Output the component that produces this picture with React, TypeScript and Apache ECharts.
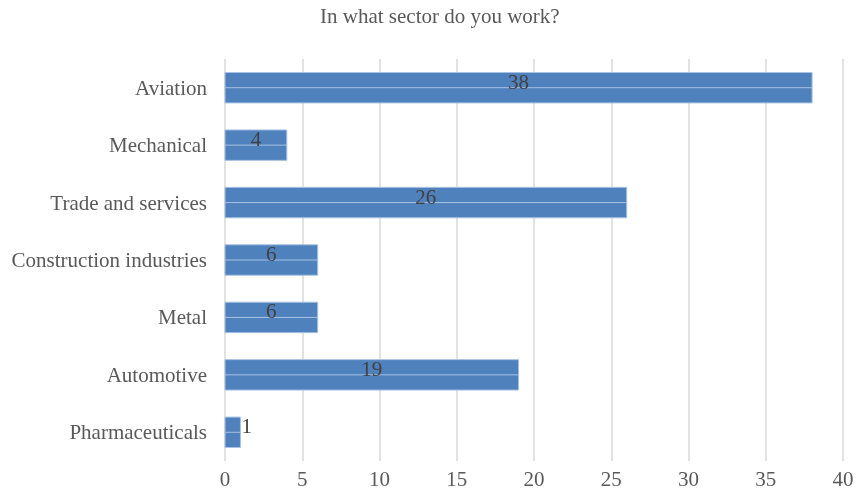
import React, { useEffect, useRef } from "react";
import * as echarts from "echarts";

const title = "In what sector do you work?";
const categories = [
  "Aviation",
  "Mechanical",
  "Trade and services",
  "Construction industries",
  "Metal",
  "Automotive",
  "Pharmaceuticals",
];
const values = [38, 4, 26, 6, 6, 19, 1];
const xTicks = { min: 0, max: 40, interval: 5 };

const FONT = "'Liberation Serif', 'Times New Roman', serif";

export default function App() {
  const ref = useRef<HTMLDivElement>(null);
  useEffect(() => {
    if (!ref.current) return;
    const chart = echarts.init(ref.current, undefined, { renderer: "svg" });
    chart.setOption({
      animation: false,
      title: {
        text: title,
        left: 315,
        top: 0,
        textStyle: { fontFamily: FONT, fontSize: 21, fontWeight: "normal", color: "#595959" },
      },
      grid: { left: 225, right: 14, top: 59, bottom: 37, containLabel: false },
      xAxis: {
        type: "value",
        min: xTicks.min,
        max: xTicks.max,
        interval: xTicks.interval,
        axisLine: { show: false },
        axisTick: { show: false },
        axisLabel: { fontFamily: FONT, fontSize: 21, color: "#595959", margin: 7 },
        splitLine: { show: true, lineStyle: { color: "#d9d9d9", width: 1.5 } },
      },
      yAxis: {
        type: "category",
        data: categories,
        inverse: true,
        axisLine: { show: false },
        axisTick: { show: false },
        axisLabel: { fontFamily: FONT, fontSize: 21, color: "#595959", margin: 18 },
        splitLine: { show: false },
      },
      series: [
        {
          type: "custom",
          encode: { x: 0, y: 1 },
          data: values.map((v, i) => [v, i]),
          renderItem: (params: any, api: any) => {
            const v = api.value(0);
            const idx = api.value(1);
            const s = api.coord([0, idx]);
            const e = api.coord([v, idx]);
            const band = api.size([0, 1])[1];
            const h = band * 0.53;
            const w = e[0] - s[0];
            const fits = w > 25;
            return {
              type: "group",
              children: [
                {
                  type: "rect",
                  shape: { x: s[0], y: s[1] - h / 2, width: w, height: h },
                  style: { fill: "#4f81bd", stroke: "#a9c1e2", lineWidth: 1 },
                },
                {
                  type: "line",
                  shape: { x1: s[0], y1: s[1], x2: e[0], y2: e[1] },
                  style: { stroke: "#a9c1e2", lineWidth: 1 },
                },
                {
                  type: "text",
                  x: fits ? s[0] + w / 2 : e[0] + 1,
                  y: s[1] - 6,
                  style: {
                    text: String(v),
                    fontFamily: FONT,
                    fontSize: 21,
                    fill: "#404040",
                    align: fits ? "center" : "left",
                    verticalAlign: "middle",
                  },
                },
              ],
            };
          },
        },
      ],
    });
    return () => chart.dispose();
  }, []);
  return (
    <div
      ref={ref}
      style={{ width: 857, height: 498, position: "fixed", left: 0, top: 0 }}
    />
  );
}
